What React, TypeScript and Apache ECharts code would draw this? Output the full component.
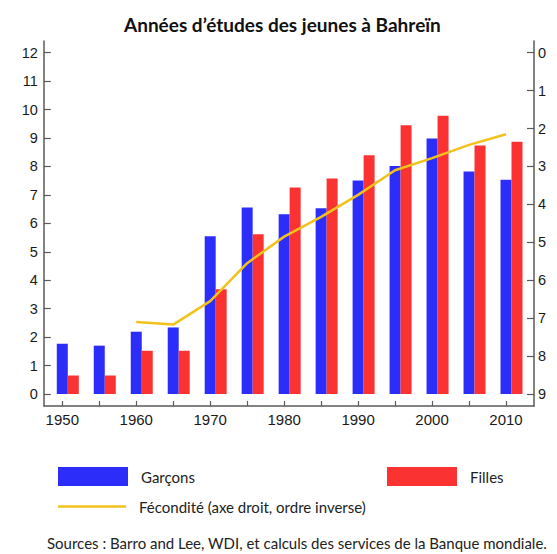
import React, { useEffect, useRef } from "react";
import * as echarts from "echarts";

const years = ["1950", "1955", "1960", "1965", "1970", "1975", "1980", "1985", "1990", "1995", "2000", "2005", "2010"];
const garcons = [1.77, 1.7, 2.19, 2.34, 5.55, 6.56, 6.32, 6.53, 7.51, 8.02, 8.98, 7.82, 7.53];
const filles = [0.65, 0.65, 1.52, 1.52, 3.68, 5.62, 7.26, 7.58, 8.39, 9.45, 9.78, 8.74, 8.87];
const fecondite = [null, null, 7.1, 7.17, 6.55, 5.55, 4.85, 4.33, 3.75, 3.1, 2.78, 2.43, 2.15];

const TITLE = "Années d’études des jeunes à Bahreïn";
const SOURCES = "Sources : Barro and Lee, WDI, et calculs des services de la Banque mondiale.";
const NAME_G = "Garçons";
const NAME_F = "Filles";
const NAME_FEC = "Fécondité (axe droit, ordre inverse)";

const AXIS_COLOR = "#5a5a5a";
const LABEL_COLOR = "#1a1a1a";
const LABEL_FONT = "'Liberation Sans', Arial, sans-serif";
const TEXT_FONT = "Lato, 'Open Sans', sans-serif";

export default function App() {
  const ref = useRef<HTMLDivElement>(null);
  useEffect(() => {
    if (!ref.current) return;
    const chart = echarts.init(ref.current, null, { renderer: "svg" });
    const legendText = { fontFamily: TEXT_FONT, fontSize: 15, color: "#222", padding: [0, 0, 0, 8] };
    chart.setOption({
      animation: false,
      backgroundColor: "#fff",
      title: [
        {
          text: TITLE,
          left: 124,
          top: 15,
          padding: 0,
          textStyle: { fontFamily: TEXT_FONT, fontWeight: "bold", fontSize: 19, color: "#111" },
        },
        {
          text: SOURCES,
          left: 47,
          top: 535,
          padding: 0,
          textStyle: { fontFamily: TEXT_FONT, fontWeight: "normal", fontSize: 15, color: "#222" },
        },
      ],
      legend: [
        { data: [{ name: NAME_G, icon: "rect" }], left: 58, top: 467, padding: 0, itemWidth: 70, itemHeight: 19, textStyle: legendText, selectedMode: false },
        { data: [{ name: NAME_F, icon: "rect" }], left: 387, top: 467, padding: 0, itemWidth: 70, itemHeight: 19, textStyle: legendText, selectedMode: false },
        { data: [{ name: NAME_FEC, icon: "rect" }], left: 58, top: 499, padding: 0, itemWidth: 68, itemHeight: 2.5, textStyle: legendText, selectedMode: false },
      ],
      grid: [
        { left: 44, right: 23, top: 41, height: 365 },
        { left: 43.8, right: 32.5, top: 52.7, height: 341.3 },
      ],
      xAxis: [
        {
          gridIndex: 0,
          type: "value",
          min: 0,
          max: 1,
          axisLine: { show: true, onZero: false, lineStyle: { color: AXIS_COLOR, width: 1.5 } },
          axisTick: { show: false },
          axisLabel: { show: false },
          splitLine: { show: false },
        },
        {
          gridIndex: 1,
          type: "category",
          data: years,
          offset: 12,
          axisLine: { show: false, onZero: false },
          axisTick: { show: true, alignWithLabel: true, interval: 0, inside: true, length: 5, lineStyle: { color: AXIS_COLOR, width: 1.2 } },
          axisLabel: { interval: 1, margin: 6, fontFamily: LABEL_FONT, fontSize: 15, color: LABEL_COLOR },
          splitLine: { show: false },
        },
      ],
      yAxis: [
        {
          gridIndex: 0,
          type: "value",
          position: "left",
          min: 0,
          max: 1,
          axisLine: { show: true, onZero: false, lineStyle: { color: AXIS_COLOR, width: 1.5 } },
          axisTick: { show: false },
          axisLabel: { show: false },
          splitLine: { show: false },
        },
        {
          gridIndex: 0,
          type: "value",
          position: "right",
          min: 0,
          max: 1,
          axisLine: { show: true, onZero: false, lineStyle: { color: AXIS_COLOR, width: 1.5 } },
          axisTick: { show: false },
          axisLabel: { show: false },
          splitLine: { show: false },
        },
        {
          gridIndex: 1,
          type: "value",
          position: "left",
          min: 0,
          max: 12,
          interval: 1,
          axisLine: { show: false, onZero: false },
          axisTick: { show: true, inside: true, length: 7, lineStyle: { color: AXIS_COLOR, width: 1.2 } },
          axisLabel: { margin: 6, fontFamily: LABEL_FONT, fontSize: 14.5, color: LABEL_COLOR },
          splitLine: { show: false },
        },
        {
          gridIndex: 1,
          type: "value",
          position: "right",
          offset: 9.5,
          inverse: true,
          min: 0,
          max: 9,
          interval: 1,
          axisLine: { show: false, onZero: false },
          axisTick: { show: true, inside: true, length: 7, lineStyle: { color: AXIS_COLOR, width: 1.2 } },
          axisLabel: { margin: 4, fontFamily: LABEL_FONT, fontSize: 14.5, color: LABEL_COLOR },
          splitLine: { show: false },
        },
      ],
      series: [
        {
          name: "spacer",
          type: "bar",
          xAxisIndex: 1,
          yAxisIndex: 2,
          barWidth: 11,
          barGap: "0%",
          data: years.map(() => null),
          silent: true,
        },
        {
          name: NAME_G,
          type: "bar",
          xAxisIndex: 1,
          yAxisIndex: 2,
          barWidth: 11,
          barGap: "0%",
          itemStyle: { color: "#2D2DFA" },
          data: garcons,
        },
        {
          name: NAME_F,
          type: "bar",
          xAxisIndex: 1,
          yAxisIndex: 2,
          barWidth: 11,
          barGap: "0%",
          itemStyle: { color: "#FA3232" },
          data: filles,
        },
        {
          name: NAME_FEC,
          type: "line",
          xAxisIndex: 1,
          yAxisIndex: 3,
          symbol: "none",
          connectNulls: false,
          lineStyle: { color: "#F2C21B", width: 2.5 },
          itemStyle: { color: "#F2C21B" },
          data: fecondite,
        },
      ],
    });
    return () => chart.dispose();
  }, []);
  return <div ref={ref} style={{ position: "absolute", left: 0, top: 0, width: 557, height: 554 }} />;
}
